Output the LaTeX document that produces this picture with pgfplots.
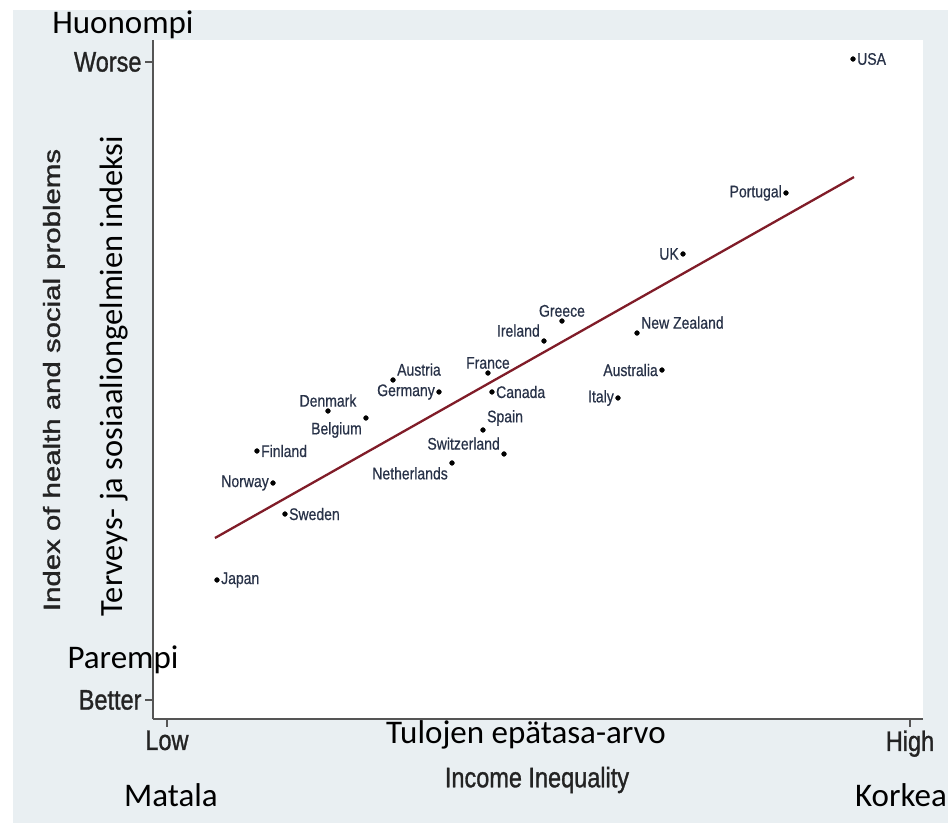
\documentclass[border=0pt]{standalone}
\usepackage{pgfplots}
\pgfplotsset{compat=1.18}
\usepackage{graphicx}
\usepackage{fontspec}
\setmainfont{Liberation Sans}
\newfontfamily\axfont[FakeBold=1.2]{Liberation Sans}
\newfontfamily\lblfont[FakeBold=0.6]{Liberation Sans}
\newfontfamily\calibri{Carlito}
\definecolor{bgc}{RGB}{233,239,242}
\definecolor{fitred}{RGB}{128,28,40}
\definecolor{lblc}{RGB}{40,50,72}
\definecolor{axc}{RGB}{85,85,85}
\definecolor{tickc}{RGB}{35,35,35}

\newcommand{\st}[1]{\scalebox{1}[1.2]{#1}}

\pgfplotsset{
  country/.style={only marks, mark=*, mark size=2.4pt, black,
    point meta=explicit symbolic,
    nodes near coords={\st{\pgfplotspointmeta}},
    every node near coord/.append style={anchor=#1,
      font=\lblfont\fontsize{14}{16}\selectfont, text=lblc, inner sep=4pt}},
}

\begin{document}
\begin{tikzpicture}
\path[use as bounding box] (0pt,0pt) rectangle (948pt,825pt);
\fill[bgc] (13pt,2pt) rectangle (948pt,815pt);
\begin{axis}[
  at={(153pt,106pt)}, anchor=south west,
  width=770pt, height=679pt, scale only axis,
  xmin=-1.88, xmax=101.75, ymin=-2.98, ymax=103.45,
  axis x line*=bottom, axis y line*=left,
  axis line style={axc, line width=1.6pt},
  axis background/.style={fill=white},
  clip=false,
  xtick={0,100}, xticklabels={\st{Low},\st{High}},
  ytick={0,100}, yticklabels={\st{Better},\st{Worse}},
  tick align=outside, major tick length=8pt,
  tick style={axc, line width=1.3pt},
  ticklabel style={font=\axfont\fontsize{23.5}{28}\selectfont, text=tickc},
  xlabel={\st{Income Inequality}},
  xlabel style={at={(axis description cs:0.4987,-0.0898)}, anchor=center,
    font=\axfont\fontsize{23.5}{28}\selectfont, text=tickc},
  ylabel={\scalebox{1.25}[1]{Index of health and social problems}},
  ylabel style={at={(axis description cs:-0.1208,0.4993)}, rotate=0, anchor=base,
    font=\axfont\fontsize{23.5}{28}\selectfont, text=tickc},
]
% fitted line
\addplot[fitred, line width=2.3pt] coordinates {(6.46,25.39) (92.46,81.97)};
% countries, grouped by label position
\addplot[country=west] coordinates {
  (92.33,100.47) [USA]
  (43.74,48.28) [Canada]
  (12.11,39.03) [Finland]
  (15.88,29.15) [Sweden]
  (6.73,18.81) [Japan]
};
\addplot[country=east] coordinates {
  (83.31,79.47) [Portugal]
  (69.45,69.91) [UK]
  (66.62,51.72) [Australia]
  (60.70,47.34) [Italy]
  (36.61,48.28) [Germany]
  (14.27,34.01) [Norway]
};
\addplot[country=south] coordinates {
  (53.16,59.40) [Greece]
  (43.20,51.25) [France]
  (21.67,45.30) [Denmark]
};
\addplot[country=south east] coordinates {
  (50.74,56.27) [Ireland]
  (45.36,38.56) [Switzerland]
};
\addplot[country=south west] coordinates {
  (63.26,57.52) [New Zealand]
  (30.42,50.16) [Austria]
  (42.53,42.32) [Spain]
};
\addplot[country=north east] coordinates {
  (26.78,44.20) [Belgium]
  (38.36,37.15) [Netherlands]
};

\node[anchor=base, font=\calibri\fontsize{33}{38}\selectfont] at (axis description cs:-0.0390,1.0103) {Huonompi};
\node[anchor=base, font=\calibri\fontsize{33}{38}\selectfont] at (axis description cs:-0.0390,0.0751) {Parempi};
\node[anchor=base, font=\calibri\fontsize{33}{38}\selectfont] at (axis description cs:0.4844,-0.0368) {Tulojen epätasa-arvo};
\node[anchor=base, font=\calibri\fontsize{33}{38}\selectfont] at (axis description cs:0.0234,-0.1296) {Matala};
\node[anchor=base, font=\calibri\fontsize{33}{38}\selectfont] at (axis description cs:0.9714,-0.1296) {Korkea};
\node[anchor=base, rotate=90, font=\calibri\fontsize{32.4}{38}\selectfont] at (axis description cs:-0.0390,0.5052) {Terveys- ja sosiaaliongelmien indeksi};
\end{axis}
\end{tikzpicture}
\end{document}
